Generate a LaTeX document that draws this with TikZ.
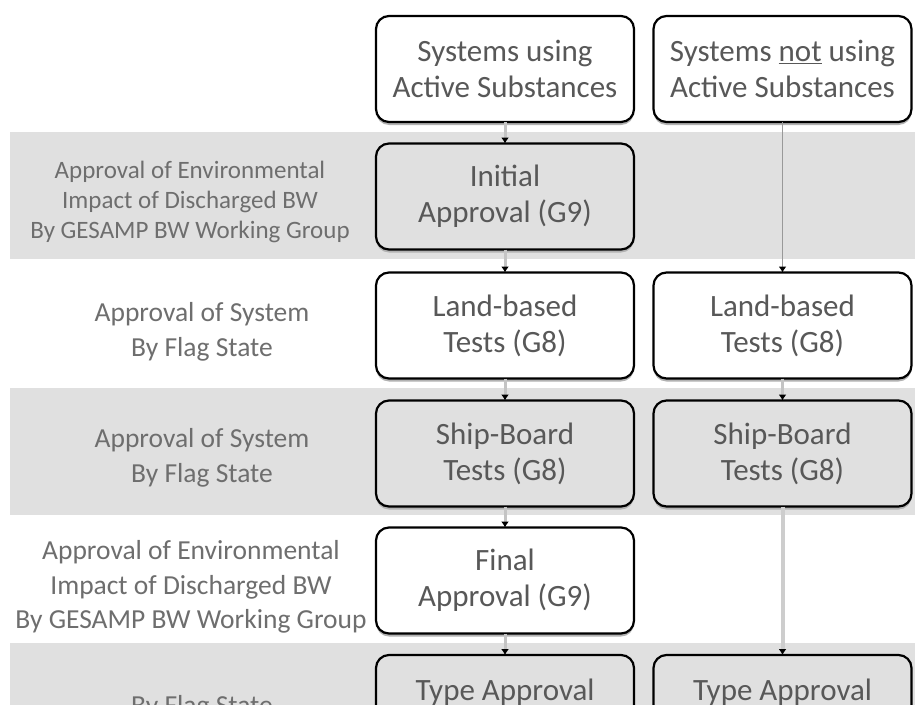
\documentclass[tikz,border=0pt]{standalone}
\usepackage{fontspec}
\setmainfont{Carlito}
\usetikzlibrary{arrows.meta,shadows}
\definecolor{band}{HTML}{E0E0E0}
\definecolor{txt}{HTML}{585858}
\definecolor{lbl}{HTML}{6E6E6E}
\definecolor{connc}{HTML}{C4C4C4}
\begin{document}
\begin{tikzpicture}[x=1pt,y=-1pt,
  stagebox/.style={draw=black, line width=2.2pt, rounded corners=13pt,
    minimum width=258pt, minimum height=106pt, inner sep=0pt, outer sep=0pt,
    align=center, text=txt, font=\fontsize{31}{36}\selectfont,
    drop shadow={shadow xshift=0pt, shadow yshift=-3pt, fill=gray!60, opacity=1}},
  whitebox/.style={stagebox, fill=white},
  graybox/.style={stagebox, fill=band},
  boxtext/.style={text=txt, font=\fontsize{31}{36}\selectfont, inner sep=0pt, anchor=base},
  steplabel/.style={align=center, text=lbl, font=\fontsize{27.5}{34.5}\selectfont, inner sep=0pt},
  smalllabel/.style={steplabel, font=\fontsize{25}{30}\selectfont},
  conn/.style={draw=connc, line width=3pt, -{Latex[length=6pt,width=8pt,color=black]}},
  thinconn/.style={draw=gray!80, line width=1.5pt, -{Latex[length=6pt,width=8pt,color=black]}},
  wideconn/.style={draw=connc!85, line width=4pt, -{Latex[length=6pt,width=8pt,color=black]}}
]
\useasboundingbox (0,0) rectangle (915,704);
\clip (0,0) rectangle (915,704);
\fill[white] (0,0) rectangle (915,704);
\fill[band] (10,132) rectangle (915,259);
\fill[band] (10,388) rectangle (915,515);
\fill[band] (10,643) rectangle (915,770);

% left column
\node[whitebox] (l0) at (505,69) {Systems using\\Active Substances};
\node[graybox]  (l1) at (505,196.5) {Initial\\Approval (G9)};
\node[whitebox] (l2) at (505,325.5) {Land-based\\Tests (G8)};
\node[graybox]  (l3) at (505,453.5) {Ship-Board\\Tests (G8)};
\node[whitebox] (l4) at (505,580.5) {Final\\Approval (G9)};
\node[graybox]  (l5) at (505,708) {};
% right column
\node[whitebox] (r0) at (782.5,69) {Systems \underline{not} using\\Active Substances};
\node[whitebox] (r2) at (782.5,325.5) {Land-based\\Tests (G8)};
\node[graybox]  (r3) at (782.5,453.5) {Ship-Board\\Tests (G8)};
\node[graybox]  (r5) at (782.5,708) {};
\node[boxtext] (t5l) at (505,700) {Type Approval};
\node[boxtext] (t5r) at (782.5,700) {Type Approval};

% row labels
\node[smalllabel] (a1) at (190,202) {Approval of Environmental\\Impact of Discharged BW\\By GESAMP BW Working Group};
\node[steplabel] (a2) at (202,332) {Approval of System\\By Flag State};
\node[steplabel] (a3) at (202,458) {Approval of System\\By Flag State};
\node[steplabel] (a4) at (191,587) {Approval of Environmental\\Impact of Discharged BW\\By GESAMP BW Working Group};
\node[steplabel, anchor=base] (a5) at (202,714.5) {By Flag State};

% connectors
\draw[conn] (l0.south) -- (l1.north);
\draw[conn] (l1.south) -- (l2.north);
\draw[conn] (l2.south) -- (l3.north);
\draw[conn] (l3.south) -- (l4.north);
\draw[conn] (l4.south) -- (l5.north);
\draw[thinconn] (r0.south) -- (r2.north);
\draw[conn] (r2.south) -- (r3.north);
\draw[wideconn] (r3.south) -- (r5.north);
\end{tikzpicture}
\end{document}
